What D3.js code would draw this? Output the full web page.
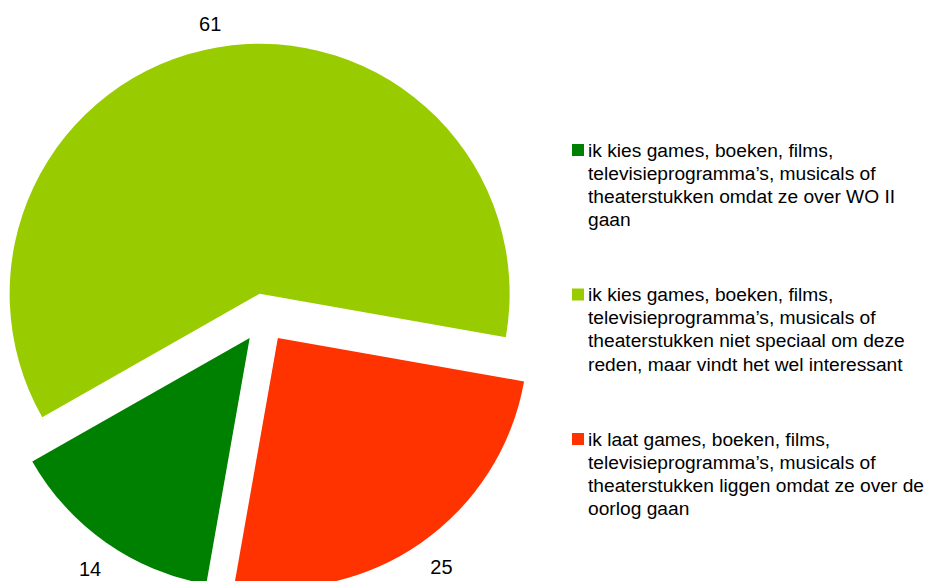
<!DOCTYPE html>
<html>
<head>
<meta charset="utf-8">
<script src="https://cdn.jsdelivr.net/npm/d3@7"></script>
<style>
  html, body { margin: 0; padding: 0; background: #fff; }
  svg { display: block; }
  text { font-family: "Liberation Sans", Arial, sans-serif; fill: #000; }
</style>
</head>
<body>
<svg id="chart" width="928" height="581"></svg>
<script>
// categories (legend lines as wrapped in the picture)
var categories = [
  ["ik kies games, boeken, films,", "televisieprogramma\u2019s, musicals of", "theaterstukken omdat ze over WO II", "gaan"],
  ["ik kies games, boeken, films,", "televisieprogramma\u2019s, musicals of", "theaterstukken niet speciaal om deze", "reden, maar vindt het wel interessant"],
  ["ik laat games, boeken, films,", "televisieprogramma\u2019s, musicals of", "theaterstukken liggen omdat ze over de", "oorlog gaan"]
];
var values = [14, 61, 25];
var colors = ["#008000", "#99cc00", "#ff3300"];

var svg = d3.select("#chart");

var cx = 263.8, cy = 317.9, radius = 250, explode = 24.5;
var start = 190 * Math.PI / 180;

var pie = d3.pie().sort(null).value(function(d) { return d; })
  .startAngle(start).endAngle(start + 2 * Math.PI);
var arc = d3.arc().innerRadius(0).outerRadius(radius);

var arcs = pie(values);

var g = svg.append("g").attr("transform", "translate(" + cx + "," + cy + ")");

var slice = g.selectAll("g.slice").data(arcs).enter().append("g")
  .attr("class", "slice")
  .attr("transform", function(d) {
    var a = (d.startAngle + d.endAngle) / 2;
    return "translate(" + (Math.sin(a) * explode) + "," + (-Math.cos(a) * explode) + ")";
  });

slice.append("path")
  .attr("d", arc)
  .attr("fill", function(d, i) { return colors[i]; });

// value labels just outside each slice
function labelPos(d) {
  var a = (d.startAngle + d.endAngle) / 2 - 0.01;
  var r = radius + 13 + 8 * Math.abs(Math.cos(a)) + 20 * Math.abs(Math.sin(a));
  return [Math.sin(a) * r, -Math.cos(a) * r];
}

slice.append("text")
  .attr("text-anchor", "middle")
  .attr("dy", "0.35em")
  .style("font-size", "20px")
  .attr("x", function(d) { return labelPos(d)[0]; })
  .attr("y", function(d) { return labelPos(d)[1]; })
  .text(function(d) { return d.value; });

// legend
var legend = svg.append("g").attr("transform", "translate(572,144)");
var item = legend.selectAll("g.item").data(categories).enter().append("g")
  .attr("class", "item")
  .attr("transform", function(d, i) { return "translate(0," + (i * 144.5) + ")"; });

item.append("rect")
  .attr("width", 12).attr("height", 12)
  .attr("fill", function(d, i) { return colors[i]; });

item.append("text")
  .style("font-size", "19.2px")
  .selectAll("tspan").data(function(d) { return d; }).enter().append("tspan")
  .attr("x", 16)
  .attr("y", function(d, j) { return 12.5 + j * 23.2; })
  .text(function(d) { return d; });
</script>
</body>
</html>
